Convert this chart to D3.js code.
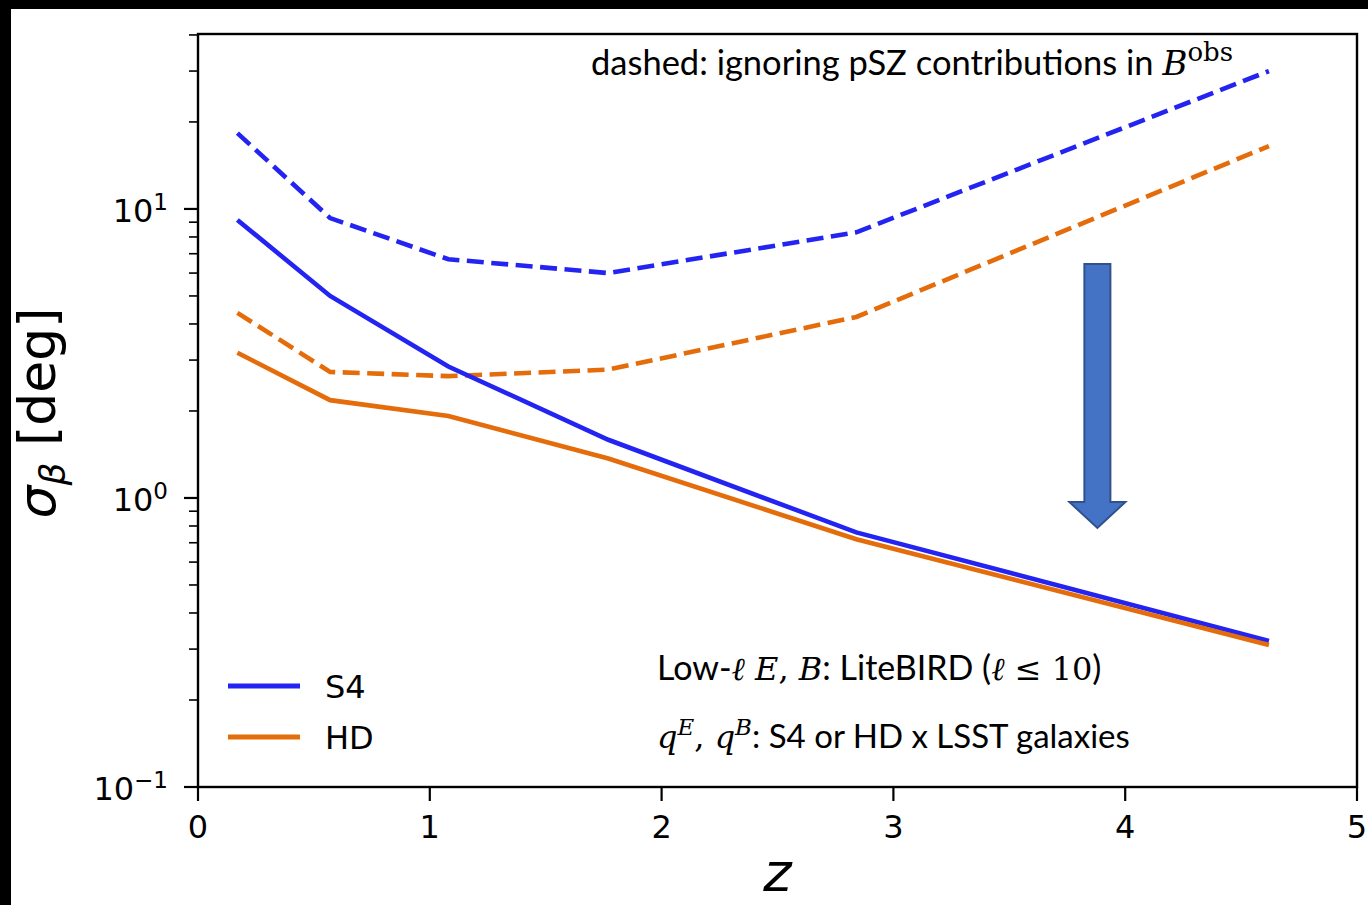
<!DOCTYPE html>
<html>
<head>
<meta charset="utf-8">
<script src="https://cdn.jsdelivr.net/npm/d3@7"></script>
<style>
  html, body { margin: 0; padding: 0; background: #000; }
  svg { display: block; }
</style>
</head>
<body>
<div id="wrapper"></div>
<script>
// redshift bins and sigma_beta values (deg)
const zValues = [0.17, 0.57, 1.08, 1.77, 2.84, 4.62];
const s4Solid = [9.16, 5.0, 2.85, 1.59, 0.76, 0.32];
const hdSolid = [3.18, 2.18, 1.92, 1.37, 0.72, 0.31];
const s4Dashed = [18.3, 9.3, 6.7, 6.0, 8.3, 30];
const hdDashed = [4.37, 2.73, 2.64, 2.78, 4.23, 16.5];

const xTicks = [0, 1, 2, 3, 4, 5];
const yMajorTicks = [0.1, 1, 10];
const yMajorLabels = ["\u22121", "0", "1"];
const legendNames = ["S4", "HD"];

const blue = "#2424f2";
const orange = "#e46c0a";

const width = 1368;
const height = 905;
let dimensions = {
    left: 198,
    right: 1357,
    top: 34,
    bottom: 787
};

const svg = d3.select("#wrapper")
    .append("svg")
    .attr("width", width)
    .attr("height", height);

// white slide area with a black frame on top/left
svg.append("rect")
    .attr("x", 0).attr("y", 0)
    .attr("width", width).attr("height", height)
    .attr("fill", "#000");
svg.append("rect")
    .attr("x", 11).attr("y", 9)
    .attr("width", width - 11).attr("height", height - 9)
    .attr("fill", "#fff");

const xScale = d3.scaleLinear()
    .domain([0, 5])
    .range([dimensions.left, dimensions.right]);

const yScale = d3.scaleLog()
    .domain([0.1, 40.3])
    .range([dimensions.bottom, dimensions.top]);

// minor ticks on the log axis
const minorTicks = [];
[0.1, 1, 10].forEach(dec => {
    for (let k = 2; k <= 9; k++) {
        const v = dec * k;
        if (v <= yScale.domain()[1]) minorTicks.push(v);
    }
});

const ticks = svg.append("g");
ticks.selectAll(".minor")
    .data(minorTicks)
    .join("line")
    .attr("x1", dimensions.left - 9)
    .attr("x2", dimensions.left)
    .attr("y1", d => yScale(d))
    .attr("y2", d => yScale(d))
    .attr("stroke", "#000")
    .attr("stroke-width", 1.6);

ticks.selectAll(".major")
    .data(yMajorTicks)
    .join("line")
    .attr("x1", dimensions.left - 14)
    .attr("x2", dimensions.left)
    .attr("y1", d => yScale(d))
    .attr("y2", d => yScale(d))
    .attr("stroke", "#000")
    .attr("stroke-width", 2.2);

ticks.selectAll(".xt")
    .data(xTicks)
    .join("line")
    .attr("x1", d => xScale(d))
    .attr("x2", d => xScale(d))
    .attr("y1", dimensions.bottom)
    .attr("y2", dimensions.bottom + 14)
    .attr("stroke", "#000")
    .attr("stroke-width", 2.2);

// tick labels
svg.append("g").selectAll("text")
    .data(xTicks)
    .join("text")
    .attr("x", d => xScale(d))
    .attr("y", dimensions.bottom + 51)
    .attr("text-anchor", "middle")
    .style("font-family", "DejaVu Sans")
    .style("font-size", "32px")
    .text(d => d);

const yLabels = svg.append("g").selectAll("text")
    .data(yMajorTicks)
    .join("text")
    .attr("x", 168)
    .attr("y", d => yScale(d) + 13)
    .attr("text-anchor", "end")
    .style("font-family", "DejaVu Sans")
    .style("font-size", "32px");
yLabels.append("tspan").text("10");
yLabels.append("tspan")
    .attr("dy", -12)
    .style("font-size", "23px")
    .text((d, i) => yMajorLabels[i]);

// lines
const line = (ys) => d3.line()
    .x((d, i) => xScale(zValues[i]))
    .y(d => yScale(d))(ys);

const series = [
    { values: s4Dashed, color: blue, dashed: true },
    { values: hdDashed, color: orange, dashed: true },
    { values: s4Solid, color: blue, dashed: false },
    { values: hdSolid, color: orange, dashed: false }
];

svg.append("g").selectAll("path")
    .data(series)
    .join("path")
    .attr("d", d => line(d.values))
    .attr("fill", "none")
    .attr("stroke", d => d.color)
    .attr("stroke-width", 4.6)
    .attr("stroke-dasharray", d => d.dashed ? "17,7.5" : null);

// axes frame
svg.append("rect")
    .attr("x", dimensions.left)
    .attr("y", dimensions.top)
    .attr("width", dimensions.right - dimensions.left)
    .attr("height", dimensions.bottom - dimensions.top)
    .attr("fill", "none")
    .attr("stroke", "#000")
    .attr("stroke-width", 2.4);

// axis titles
const yTitle = svg.append("text")
    .attr("transform", "translate(55,413) rotate(-90)")
    .attr("text-anchor", "middle")
    .style("font-family", "DejaVu Sans")
    .style("font-size", "52px");
yTitle.append("tspan").style("font-style", "italic").text("\u03c3");
yTitle.append("tspan").attr("dy", 10).style("font-size", "36px").style("font-style", "italic").text("\u03b2");
yTitle.append("tspan").attr("dy", -10).text(" [deg]");

svg.append("text")
    .attr("x", xScale(2.5))
    .attr("y", 891)
    .attr("text-anchor", "middle")
    .style("font-family", "DejaVu Sans")
    .style("font-size", "54px")
    .style("font-style", "italic")
    .text("z");

// legend
const legend = svg.append("g");
legendNames.forEach((name, i) => {
    const ly = 686 + i * 51;
    legend.append("line")
        .attr("x1", 228).attr("x2", 300)
        .attr("y1", ly).attr("y2", ly)
        .attr("stroke", i === 0 ? blue : orange)
        .attr("stroke-width", 5);
    legend.append("text")
        .attr("x", 325)
        .attr("y", ly + 12)
        .style("font-family", "DejaVu Sans")
        .style("font-size", "32px")
        .text(name);
});

// annotations
const sans = "Lato";
const serif = "DejaVu Serif";

const topNote = svg.append("text")
    .attr("x", 591)
    .attr("y", 75)
    .style("font-family", sans)
    .style("font-size", "34.5px");
topNote.append("tspan").text("dashed: ignoring pSZ contributions in ");
topNote.append("tspan").style("font-family", serif).style("font-style", "italic").style("font-size", "34px").text("B");
topNote.append("tspan").attr("dy", -14).style("font-family", serif).style("font-size", "26px").text("obs");

const note1 = svg.append("text")
    .attr("x", 657)
    .attr("y", 680)
    .style("font-family", sans)
    .style("font-size", "34px");
note1.append("tspan").text("Low-");
note1.append("tspan").style("font-family", serif).style("font-style", "italic").style("font-size", "32px").text("\u2113 E");
note1.append("tspan").style("font-family", serif).style("font-size", "32px").text(", ");
note1.append("tspan").style("font-family", serif).style("font-style", "italic").style("font-size", "32px").text("B");
note1.append("tspan").text(": LiteBIRD (");
note1.append("tspan").style("font-family", serif).style("font-style", "italic").style("font-size", "32px").text("\u2113");
note1.append("tspan").style("font-family", serif).style("font-size", "32px").text(" \u2264 10");
note1.append("tspan").text(")");

const note2 = svg.append("text")
    .attr("x", 657)
    .attr("y", 748)
    .style("font-family", sans)
    .style("font-size", "33px");
note2.append("tspan").style("font-family", serif).style("font-style", "italic").style("font-size", "32px").text("q");
note2.append("tspan").attr("dy", -13).style("font-family", serif).style("font-style", "italic").style("font-size", "23px").text("E");
note2.append("tspan").attr("dy", 13).style("font-family", serif).style("font-size", "32px").text(", ");
note2.append("tspan").style("font-family", serif).style("font-style", "italic").style("font-size", "32px").text("q");
note2.append("tspan").attr("dy", -13).style("font-family", serif).style("font-style", "italic").style("font-size", "23px").text("B");
note2.append("tspan").attr("dy", 13).text(": S4 or HD x LSST galaxies");

// big down arrow
const arrowX = xScale(3.88);
const arrow = d3.path();
arrow.moveTo(arrowX - 13, 264);
arrow.lineTo(arrowX + 13, 264);
arrow.lineTo(arrowX + 13, 502);
arrow.lineTo(arrowX + 28, 502);
arrow.lineTo(arrowX, 528);
arrow.lineTo(arrowX - 28, 502);
arrow.lineTo(arrowX - 13, 502);
arrow.closePath();
svg.append("path")
    .attr("d", arrow.toString())
    .attr("fill", "#4472c4")
    .attr("stroke", "#2f528f")
    .attr("stroke-width", 2);
</script>
</body>
</html>
